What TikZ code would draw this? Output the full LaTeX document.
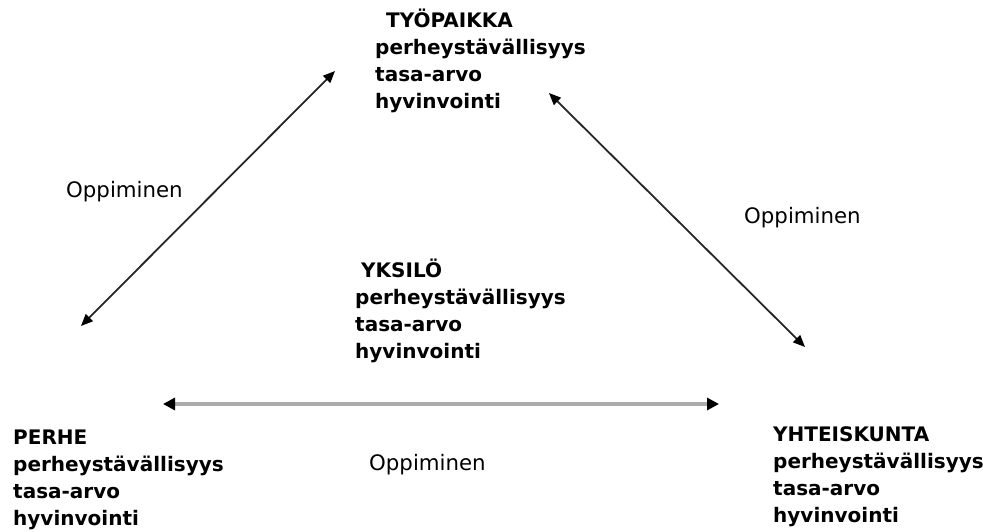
\documentclass[tikz,border=0pt]{standalone}
\usepackage{fontspec}
\setmainfont{DejaVu Sans}
\usetikzlibrary{arrows.meta}

\tikzset{
  group/.style={anchor=base west, align=left, inner sep=0pt,
    font=\fontsize{20}{26.7}\selectfont\bfseries},
  learn/.style={anchor=base west, inner sep=0pt,
    font=\fontsize{21.3}{25}\selectfont},
  link/.style={line width=1.8pt, draw=black!85,
    {Triangle[length=12pt,width=10pt,color=black]}-{Triangle[length=12pt,width=10pt,color=black]}},
  baselink/.style={line width=3.2pt, draw=black!33,
    {Triangle[length=12pt,width=12pt,color=black]}-{Triangle[length=12pt,width=12pt,color=black]}}
}

\begin{document}
\begin{tikzpicture}[x=1pt,y=-1pt]
  \useasboundingbox (0,0) rectangle (983,531);

  % the four actors, each with the same three themes
  % (placed by the baseline of their last line)
  \node[group] (work)    at (375,108) {\hspace{11pt}TYÖPAIKKA\\perheystävällisyys\\tasa-arvo\\hyvinvointi};
  \node[group] (self)    at (355,358) {\hspace{6pt}YKSILÖ\\perheystävällisyys\\tasa-arvo\\hyvinvointi};
  \node[group] (family)  at (13,525)  {PERHE\\perheystävällisyys\\tasa-arvo\\hyvinvointi};
  \node[group] (society) at (773,522) {YHTEISKUNTA\\perheystävällisyys\\tasa-arvo\\hyvinvointi};

  % arrow ends around the triangle
  \coordinate (work-sw)    at (335,71);
  \coordinate (work-se)    at (549,93);
  \coordinate (family-ne)  at (81,326);
  \coordinate (family-e)   at (163,404);
  \coordinate (society-nw) at (805,347);
  \coordinate (society-w)  at (719,404);

  % two-way learning links
  \draw[link] (family-ne) -- (work-sw);
  \draw[link] (work-se) -- (society-nw);
  \draw[baselink] (family-e) -- (society-w);

  \node[learn] (learn-left)   at (66,197)  {Oppiminen};
  \node[learn] (learn-right)  at (744,223) {Oppiminen};
  \node[learn] (learn-bottom) at (369,470) {Oppiminen};
\end{tikzpicture}
\end{document}
